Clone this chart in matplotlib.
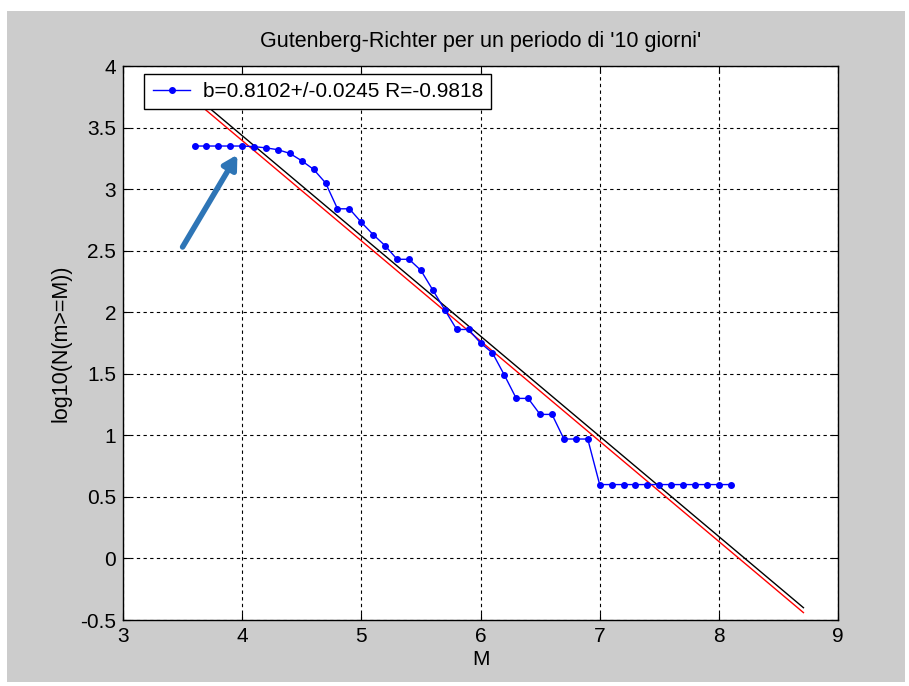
import matplotlib

matplotlib.use("Agg")
import matplotlib.pyplot as plt
from matplotlib.patches import Rectangle
from matplotlib.ticker import FuncFormatter

# cumulative counts, log10(N(m>=M))
mag = [3.6, 3.7, 3.8, 3.9, 4.0, 4.1, 4.2, 4.3, 4.4, 4.5,
       4.6, 4.7, 4.8, 4.9, 5.0, 5.1, 5.2, 5.3, 5.4, 5.5,
       5.6, 5.7, 5.8, 5.9, 6.0, 6.1, 6.2, 6.3, 6.4, 6.5,
       6.6, 6.7, 6.8, 6.9, 7.0, 7.1, 7.2, 7.3, 7.4, 7.5,
       7.6, 7.7, 7.8, 7.9, 8.0, 8.1]
logn = [3.35, 3.35, 3.35, 3.35, 3.35, 3.345, 3.335, 3.32, 3.29, 3.23,
        3.16, 3.05, 2.84, 2.84, 2.73, 2.63, 2.54, 2.43, 2.43, 2.34,
        2.18, 2.02, 1.86, 1.86, 1.75, 1.67, 1.49, 1.30, 1.30, 1.17,
        1.17, 0.97, 0.97, 0.97, 0.60, 0.60, 0.60, 0.60, 0.60, 0.60,
        0.60, 0.60, 0.60, 0.60, 0.60, 0.60]

# the two fitted lines (end points)
fit_x = [3.6, 8.71]
fit_black = [3.76, -0.40]
fit_red = [3.72, -0.44]

legend_label = "b=0.8102+/-0.0245 R=-0.9818"
title = "Gutenberg-Richter per un periodo di '10 giorni'"
xticks = [3, 4, 5, 6, 7, 8, 9]
yticks = [-0.5, 0, 0.5, 1, 1.5, 2, 2.5, 3, 3.5, 4]

# annotation arrow (tail, tip) in data units
arrow_tail = (3.50, 2.53)
arrow_tip = (3.96, 3.28)

plt.rcParams["font.family"] = ["Liberation Sans", "DejaVu Sans"]

fig = plt.figure(figsize=(9.09, 6.86), dpi=100, facecolor="white")
fig.patches.append(
    Rectangle((7 / 909, 4 / 686), 898 / 909, 671 / 686, transform=fig.transFigure,
              facecolor="#cccccc", edgecolor="none", zorder=-10)
)
ax = fig.add_axes([123 / 909, 66 / 686, 715 / 909, 554 / 686])

ax.plot(fit_x, fit_red, "-", color="red", lw=1.0, zorder=3)
ax.plot(fit_x, fit_black, "-", color="black", lw=1.0, zorder=3)
ax.plot(mag, logn, "-", color="blue", lw=1.0, marker="o", ms=4, mec="blue", mfc="blue",
        label=legend_label, zorder=4)

ax.annotate("", xy=arrow_tip, xytext=arrow_tail,
            arrowprops=dict(arrowstyle="-|>,head_length=0.8,head_width=0.45", lw=4,
                            color="#2E75B6", shrinkA=0, shrinkB=0), zorder=6)

ax.set_xlim(3, 9)
ax.set_ylim(-0.5, 4)
ax.set_xticks(xticks)
ax.set_yticks(yticks)
ax.yaxis.set_major_formatter(FuncFormatter(lambda v, p: f"{v:g}"))
ax.grid(True, color="black", linestyle=(0, (3, 3)), lw=0.8)
ax.tick_params(direction="in", length=5, top=True, right=True, labelsize=15, pad=5)
for s in ax.spines.values():
    s.set_linewidth(1.0)

ax.set_title(title, fontsize=15.5, pad=14)
ax.set_xlabel("M", fontsize=15, labelpad=3)
ax.set_ylabel("log10(N(m>=M))", fontsize=15.5, labelpad=6)

leg = ax.legend(loc="upper left", bbox_to_anchor=(0.03, 0.986), borderaxespad=0,
                fancybox=False, framealpha=1, edgecolor="black", borderpad=0.4,
                handlelength=1.8, handletextpad=0.6, fontsize=15)
leg.get_frame().set_linewidth(1.0)
leg.set_zorder(10)

fig.savefig("out.png", dpi=100, facecolor=fig.get_facecolor())
